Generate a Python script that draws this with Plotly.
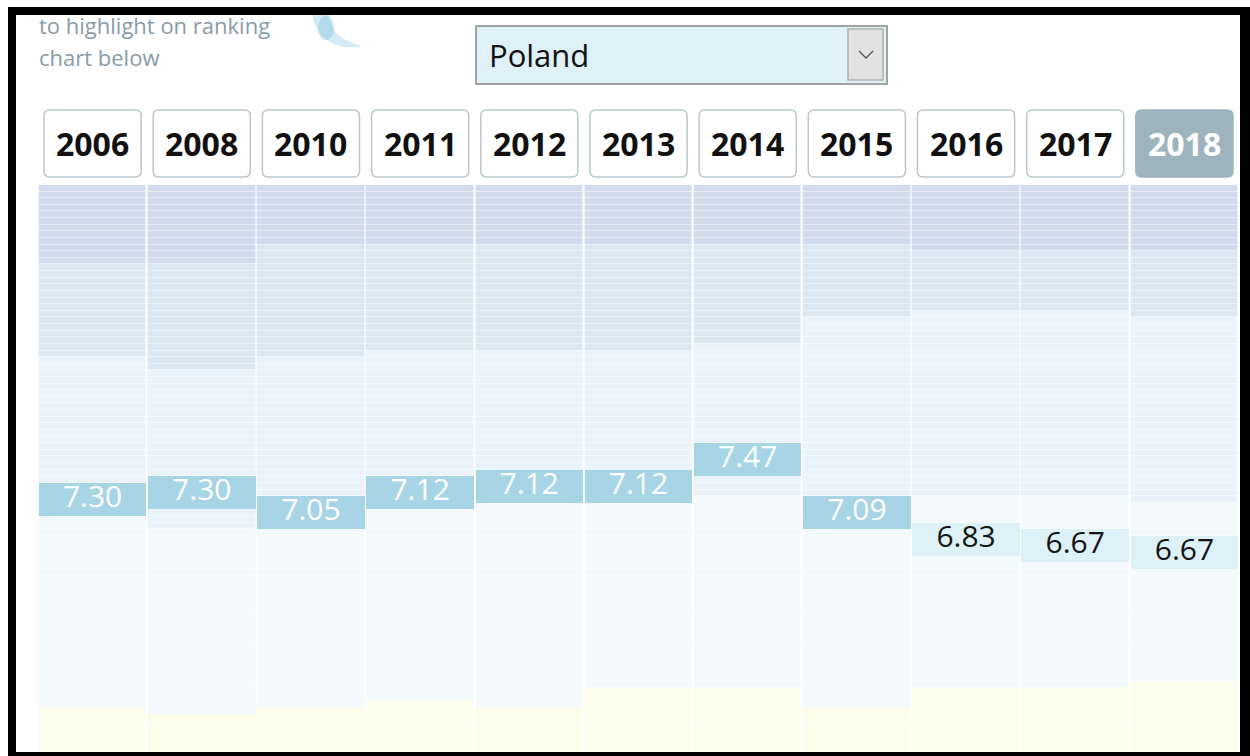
import plotly.graph_objects as go

# ---------------- data ----------------
years = ['2006', '2008', '2010', '2011', '2012', '2013', '2014', '2015', '2016', '2017', '2018']
# number of countries scoring at or above each threshold (rank boundaries of the shaded bands)
n_ge9 = [12, 12, 9, 9, 9, 9, 9, 9, 10, 10, 10]
n_ge8 = [26, 28, 26, 25, 25, 25, 24, 20, 19, 19, 20]
n_ge7 = [50, 52, 50, 48, 48, 48, 47, 50, 47, 47, 48]
n_ge6 = [79, 80, 79, 78, 79, 76, 76, 79, 76, 76, 75]
n_countries = 167
poland_rank = [46, 45, 48, 45, 44, 44, 40, 48, 52, 53, 54]
poland_score = [7.30, 7.30, 7.05, 7.12, 7.12, 7.12, 7.47, 7.09, 6.83, 6.67, 6.67]
selected_year = '2018'
selected_country = 'Poland'
header_lines = ['to highlight on ranking', 'chart below']

# ---------------- styles ----------------
band_colors = ['#d1dbec', '#dce8f1', '#e9f3f9', '#f4f9fc', '#fcfdea']
hl_dark, hl_light = '#a8d5e5', '#ddf1f7'
W, H = 1250, 756
L, R, T, B = 38, 11, 185, 0
PX_PER_RANK = 6.62
HIGHLIGHT_ROWS = 5
plot_h = H - T - B
plot_w = W - L - R
y_max = plot_h / PX_PER_RANK

def px(X):
    return (X - L) / plot_w

def py(Y):
    return (H - Y) / plot_h

xi = list(range(len(years)))

# ---------------- rank segments ----------------
seg_x, seg_base, seg_col = [], [], []
for i in xi:
    for r in range(1, n_countries + 1):
        if r <= n_ge9[i]:
            c = band_colors[0]
        elif r <= n_ge8[i]:
            c = band_colors[1]
        elif r <= n_ge7[i]:
            c = band_colors[2]
        elif r <= n_ge6[i]:
            c = band_colors[3]
        else:
            c = band_colors[4]
        seg_x.append(i)
        seg_base.append(r - 1)
        seg_col.append(c)

fig = go.Figure()
fig.add_trace(go.Bar(
    x=seg_x, y=[1] * len(seg_x), base=seg_base, width=0.985,
    marker=dict(color=seg_col, line=dict(color='rgba(255,255,255,0.35)', width=0.8)),
    hoverinfo='skip', showlegend=False))

hl_cols = [hl_dark if s >= 7 else hl_light for s in poland_score]
fig.add_trace(go.Bar(
    x=xi, y=[HIGHLIGHT_ROWS] * len(xi), base=[r - 1 for r in poland_rank], width=0.985,
    marker=dict(color=hl_cols, line=dict(width=0)),
    hoverinfo='skip', showlegend=False))

fig.add_trace(go.Scatter(
    x=xi, y=[r - 1 + HIGHLIGHT_ROWS / 2 for r in poland_rank],
    mode='text', text=[f'{s:.2f}' for s in poland_score],
    textposition='middle center',
    textfont=dict(family='Open Sans', size=30,
                  color=['#ffffff' if s >= 7 else '#151515' for s in poland_score]),
    hoverinfo='skip', showlegend=False))

shapes = []
annotations = []

# year buttons
rx, ry = 6 / (plot_w / len(years)), 6 / plot_h
for i, yr in enumerate(years):
    x0, x1 = i - 0.445, i + 0.445
    y0, y1 = py(177), py(110)
    path = (f'M {x0+rx},{y1} L {x1-rx},{y1} Q {x1},{y1} {x1},{y1-ry} '
            f'L {x1},{y0+ry} Q {x1},{y0} {x1-rx},{y0} L {x0+rx},{y0} '
            f'Q {x0},{y0} {x0},{y0+ry} L {x0},{y1-ry} Q {x0},{y1} {x0+rx},{y1} Z')
    sel = yr == selected_year
    shapes.append(dict(type='path', path=path, xref='x', yref='paper',
                       fillcolor='#9fb3bd' if sel else '#ffffff',
                       line=dict(color='#9fb3bd' if sel else '#b9c7cd', width=1.5),
                       layer='above'))
    annotations.append(dict(x=i, y=py(143), xref='x', yref='paper', text=f'<b>{yr}</b>',
                            showarrow=False, xanchor='center', yanchor='middle',
                            font=dict(family='Open Sans', size=32,
                                      color='#ffffff' if sel else '#111111')))

# dropdown
shapes.append(dict(type='rect', xref='paper', yref='paper', x0=px(476), x1=px(887),
                   y0=py(84), y1=py(26), fillcolor='#dff0f7',
                   line=dict(color='#a3a3a3', width=2), layer='above'))
shapes.append(dict(type='rect', xref='paper', yref='paper', x0=px(848), x1=px(883),
                   y0=py(80), y1=py(29), fillcolor='#e2e2e2',
                   line=dict(color='#b0b0b0', width=1.5), layer='above'))
shapes.append(dict(type='path', xref='paper', yref='paper',
                   path=f'M {px(859)},{py(51)} L {px(866)},{py(58)} L {px(873)},{py(51)}',
                   line=dict(color='#555555', width=1.3), layer='above'))
annotations.append(dict(x=px(487), y=py(55), xref='paper', yref='paper', text=selected_country,
                        showarrow=False, xanchor='left', yanchor='middle',
                        font=dict(family='Open Sans', size=31, color='#111111')))

# faint globe fragment
blob = (f'M {px(312)},{py(15)} Q {px(316)},{py(34)} {px(330)},{py(42)} '
        f'Q {px(345)},{py(50)} {px(362)},{py(46)} Q {px(340)},{py(40)} {px(334)},{py(30)} '
        f'Q {px(328)},{py(20)} {px(330)},{py(15)} Z')
shapes.append(dict(type='path', xref='paper', yref='paper', path=blob,
                   fillcolor='rgba(185,222,235,0.6)', line=dict(width=0), layer='above'))
shapes.append(dict(type='circle', xref='paper', yref='paper', x0=px(318), x1=px(334),
                   y0=py(40), y1=py(16), fillcolor='rgba(150,206,226,0.55)',
                   line=dict(width=0), layer='above'))

# header text
annotations.append(dict(x=px(37), y=py(25), xref='paper', yref='paper', text=header_lines[0],
                        showarrow=False, xanchor='left', yanchor='middle',
                        font=dict(family='Open Sans', size=22, color='#8a9aa6')))
annotations.append(dict(x=px(37), y=py(57), xref='paper', yref='paper', text=header_lines[1],
                        showarrow=False, xanchor='left', yanchor='middle',
                        font=dict(family='Open Sans', size=22, color='#8a9aa6')))

# black frame of the screenshot
for (X0, X1, Y0, Y1) in [(8, 1250, 7, 15), (8, 16, 7, 756), (1240, 1250, 7, 756), (8, 1250, 752, 756)]:
    shapes.append(dict(type='rect', xref='paper', yref='paper', x0=px(X0), x1=px(X1),
                       y0=py(Y1), y1=py(Y0), fillcolor='#000000', line=dict(width=0),
                       layer='above'))

fig.update_layout(
    width=W, height=H, margin=dict(l=L, r=R, t=T, b=B, pad=0),
    barmode='overlay', bargap=0,
    paper_bgcolor='#ffffff', plot_bgcolor='#ffffff',
    xaxis=dict(range=[-0.5, len(years) - 0.5], visible=False, fixedrange=True),
    yaxis=dict(range=[y_max, 0], visible=False, fixedrange=True),
    shapes=shapes, annotations=annotations, hovermode=False, showlegend=False)

fig.write_html('out.html', config={'displayModeBar': False},
               post_script="document.body.style.margin='0';document.body.style.overflow='hidden';")
